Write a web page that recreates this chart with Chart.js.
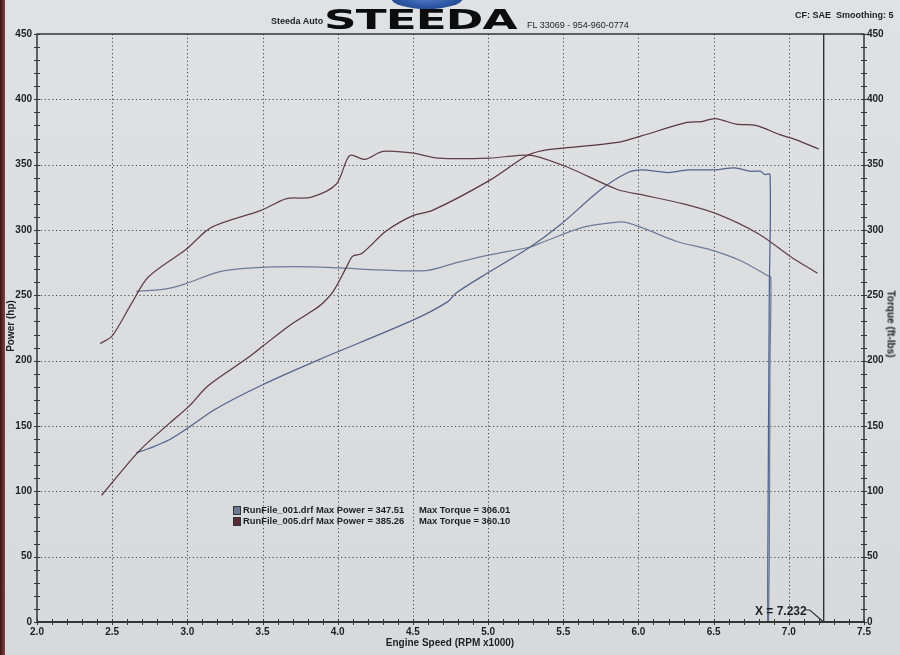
<!DOCTYPE html>
<html>
<head>
<meta charset="utf-8">
<script src="https://cdn.jsdelivr.net/npm/chart.js@4.4.1/dist/chart.umd.min.js"></script>
<style>
  html, body { margin:0; padding:0; background:#dcdddf; }
  #wrap { position:relative; width:900px; height:655px; overflow:hidden;
          background:linear-gradient(180deg,#e0e1e3 0%,#dcdddf 50%,#d8d9db 100%); }
  #c { position:absolute; left:0; top:0; }
  .t { position:absolute; font-family:'Liberation Sans', Arial, sans-serif; font-weight:bold; color:#1f1f1f; white-space:nowrap; }
  #edge { position:absolute; left:0; top:0; width:5px; height:655px; background:linear-gradient(90deg,#3e1212,#7a4444); }
  #oval { position:absolute; left:391px; top:-13px; width:72px; height:22px; border-radius:50%;
          background:radial-gradient(ellipse at 50% 30%,#6f95d6 0%,#2f5aa8 55%,#1d3f80 100%); }
  #logo { position:absolute; left:324px; top:7px; font-family:'DejaVu Sans', sans-serif; font-weight:900;
          font-size:26px; line-height:26px; color:#0c0c0c; transform-origin:0 0; transform:scaleX(1.74); letter-spacing:-0.5px; white-space:nowrap; }
  #legend { position:absolute; left:233px; top:504px; font-family:'Liberation Sans', Arial, sans-serif; font-weight:bold; font-size:9.4px; color:#1f1f1f; }
  #legend .row { position:relative; height:11px; line-height:11px; white-space:nowrap; }
  #legend .sw { position:absolute; left:0; top:2px; width:6px; height:7px; border:1px solid #333; }
  #legend .nm { position:absolute; left:10px; top:0; }
  #legend .tq { position:absolute; left:186px; top:0; }
</style>
</head>
<body>
<div id="wrap">
  <canvas id="c" width="900" height="655"></canvas>
  <div id="edge"></div>
  <div id="oval"></div>
  <div class="t" style="left:271px;top:16px;font-size:9px;">Steeda Auto</div>
  <div id="logo">STEEDA</div>
  <div class="t" style="left:527px;top:20px;font-size:9px;font-weight:normal;">FL 33069 - 954-960-0774</div>
  <div class="t" style="left:795px;top:10px;font-size:9px;">CF: SAE&nbsp; Smoothing: 5</div>
  <div class="t" style="left:10px;top:326px;font-size:10px;transform:translate(-50%,-50%) rotate(-90deg);">Power (hp)</div>
  <div class="t" style="left:891px;top:324px;font-size:10px;transform:translate(-50%,-50%) rotate(90deg);">Torque (ft-lbs)</div>
  <div class="t" style="left:450px;top:642px;font-size:10px;transform:translate(-50%,-50%);">Engine Speed (RPM x1000)</div>
  <div id="legend"></div>
</div>
<script>
// ---- Data read from the dyno sheet ----
const run005PowerRpm = [2.43,2.68,2.88,3.01,3.14,3.40,3.50,3.68,3.83,3.90,3.97,4.06,4.10,4.16,4.32,4.50,4.63,5.01,5.26,5.37,5.53,5.86,6.02,6.31,6.42,6.51,6.65,6.78,6.94,7.05,7.20];
const run005Power    = [97,131,152,165,181,202,211,227,238,244,253,272,280,282,299,311,315,338,357,361,363,367,372,382,383,385.3,381,380,373,369,362];

const run005TorqueRpm = [2.42,2.50,2.63,2.74,2.99,3.16,3.49,3.66,3.82,3.99,4.08,4.18,4.30,4.49,4.67,5.01,5.19,5.30,5.53,5.86,6.02,6.30,6.53,6.80,7.02,7.19];
const run005Torque    = [213,219,244,264,285,302,315,324,325,335,357,354,360.1,359,355,355,357,357,348,331,327,320,312,297,279,267];

const run001PowerRpm = [2.66,2.75,2.88,3.01,3.18,3.49,3.88,4.50,4.73,4.79,5.01,5.28,5.48,5.75,5.93,6.02,6.20,6.33,6.51,6.64,6.74,6.81,6.84,6.875,6.87,6.86,6.86];
const run001Power    = [129.5,133,139.5,149,162.5,181,201,231,245,252,268,287,304,331,344,346,344,346,346,347.5,345,345,342.5,342.5,250,40,0];

const run001TorqueRpm = [2.66,2.86,2.99,3.21,3.43,3.72,4.01,4.28,4.59,4.79,5.01,5.28,5.37,5.63,5.86,5.93,6.04,6.26,6.46,6.68,6.86,6.88,6.875,6.87,6.865];
const run001Torque    = [253,255,259,268,271,272,271,269.5,269,275,281,287,291,302,306,305.5,301,291,285.5,276.5,265,264,200,50,0];

const cursorRpm = [7.232];
const yRange = [0, 450];

const runNames   = ['RunFile_001.drf', 'RunFile_005.drf'];
const maxPowers  = ['347.51', '385.26'];
const maxTorques = ['306.01', '360.10'];

// ---- Styles ----
const BLUE = '#52638a';
const BLUE_T = '#6c7c9a';
const BROWN = '#5a373d';
const BROWN_T = '#624046';
const TXT = '#1f1f1f';

function pts(xs, ys) { return xs.map((v, i) => ({ x: v, y: ys[i] })); }

// legend (HTML text)
const legendColors = ['#6b7894', '#5a2a35'];
const leg = document.getElementById('legend');
runNames.forEach((n, i) => {
  const r = document.createElement('div'); r.className = 'row';
  r.innerHTML = '<span class="sw" style="background:' + legendColors[i] + '"></span>' +
    '<span class="nm">' + n + ' Max Power = ' + maxPowers[i] + '</span>' +
    '<span class="tq">Max Torque = ' + maxTorques[i] + '</span>';
  leg.appendChild(r);
});

const tickFont = { family: "'Liberation Sans', Arial, sans-serif", size: 10, weight: 'bold' };

const framePlugin = {
  id: 'frame',
  beforeDatasetsDraw(chart) {
    const { ctx, chartArea: a, scales: { x, y } } = chart;
    ctx.save();
    ctx.strokeStyle = '#4a4a4a';
    ctx.lineWidth = 1;
    ctx.setLineDash([1.2, 2.6]);
    x.ticks.forEach(t => {
      if (t.value <= x.min || t.value >= x.max) return;
      const px = Math.round(x.getPixelForValue(t.value)) + 0.5;
      ctx.beginPath(); ctx.moveTo(px, a.top); ctx.lineTo(px, a.bottom); ctx.stroke();
    });
    y.ticks.forEach(t => {
      if (t.value <= y.min || t.value >= y.max) return;
      const py = Math.round(y.getPixelForValue(t.value)) + 0.5;
      ctx.beginPath(); ctx.moveTo(a.left, py); ctx.lineTo(a.right, py); ctx.stroke();
    });
    ctx.restore();
  },
  afterDatasetsDraw(chart) {
    const { ctx, chartArea: a, scales: { x, y, y1 } } = chart;
    ctx.save();
    ctx.setLineDash([]);
    ctx.strokeStyle = '#353535';
    // frame
    ctx.lineWidth = 1.5;
    ctx.beginPath();
    ctx.moveTo(a.left, a.bottom); ctx.lineTo(a.left, a.top); ctx.lineTo(a.right, a.top); ctx.lineTo(a.right, a.bottom);
    ctx.stroke();
    ctx.lineWidth = 2.2;
    ctx.beginPath(); ctx.moveTo(a.left, a.bottom); ctx.lineTo(a.right, a.bottom); ctx.stroke();
    // minor ticks
    ctx.lineWidth = 1;
    for (let i = Math.round(x.min * 10); i <= Math.round(x.max * 10); i++) {
      const px = Math.round(x.getPixelForValue(i / 10)) + 0.5;
      ctx.beginPath(); ctx.moveTo(px, a.bottom - 3); ctx.lineTo(px, a.bottom + 3); ctx.stroke();
    }
    for (let v = y.min; v <= y.max; v += 10) {
      const py = Math.round(y.getPixelForValue(v)) + 0.5;
      ctx.beginPath(); ctx.moveTo(a.left - 3, py); ctx.lineTo(a.left + 3, py); ctx.stroke();
      const py1 = Math.round(y1.getPixelForValue(v)) + 0.5;
      ctx.beginPath(); ctx.moveTo(a.right - 3, py1); ctx.lineTo(a.right + 3, py1); ctx.stroke();
    }
    // cursor label with leader
    const cx = x.getPixelForValue(cursorRpm[0]);
    const cy = y.getPixelForValue(0);
    const label = 'X = ' + cursorRpm[0].toFixed(3);
    ctx.font = "bold 12px 'Liberation Sans', Arial, sans-serif";
    ctx.fillStyle = TXT;
    ctx.textAlign = 'right';
    ctx.textBaseline = 'middle';
    const lx = cx - 17, ly = cy - 10;
    ctx.fillText(label, lx, ly);
    ctx.lineWidth = 1.2;
    ctx.beginPath(); ctx.moveTo(lx - 1, ly - 2); ctx.lineTo(lx + 3, ly - 2); ctx.lineTo(cx, cy); ctx.stroke();
    ctx.restore();
  }
};

new Chart(document.getElementById('c'), {
  type: 'line',
  data: {
    datasets: [
      { label: 'Power 005', data: pts(run005PowerRpm, run005Power), borderColor: BROWN, yAxisID: 'y' },
      { label: 'Torque 005', data: pts(run005TorqueRpm, run005Torque), borderColor: BROWN_T, yAxisID: 'y1' },
      { label: 'Power 001', data: pts(run001PowerRpm, run001Power), borderColor: BLUE, yAxisID: 'y' },
      { label: 'Torque 001', data: pts(run001TorqueRpm, run001Torque), borderColor: BLUE_T, yAxisID: 'y1' },
      { label: 'Cursor', data: pts([cursorRpm[0], cursorRpm[0]], yRange), borderColor: '#2a2a2a', borderWidth: 1.3, tension: 0, yAxisID: 'y' }
    ]
  },
  options: {
    responsive: false,
    animation: false,
    devicePixelRatio: 1,
    layout: { padding: { top: 34, left: 0, right: 0, bottom: 0 } },
    plugins: { legend: { display: false }, tooltip: { enabled: false }, title: { display: false } },
    elements: {
      point: { radius: 0, hoverRadius: 0 },
      line: { tension: 0.3, borderWidth: 1.25, fill: false, capBezierPoints: true }
    },
    scales: {
      x: {
        type: 'linear', min: 2, max: 7.5,
        grid: { display: false, drawTicks: false },
        border: { display: false },
        ticks: { stepSize: 0.5, autoSkip: false, maxRotation: 0, padding: 4, color: TXT, font: tickFont,
                 callback: v => Number(v).toFixed(1) },
        afterFit: s => { s.height = 33; }
      },
      y: {
        position: 'left', min: yRange[0], max: yRange[1],
        grid: { display: false, drawTicks: false },
        border: { display: false },
        ticks: { stepSize: 50, padding: 5, color: TXT, font: tickFont },
        afterFit: s => { s.width = 37; }
      },
      y1: {
        position: 'right', min: yRange[0], max: yRange[1],
        grid: { display: false, drawTicks: false },
        border: { display: false },
        ticks: { stepSize: 50, padding: 3, color: TXT, font: tickFont },
        afterFit: s => { s.width = 36; }
      }
    }
  },
  plugins: [framePlugin]
});
</script>
</body>
</html>
